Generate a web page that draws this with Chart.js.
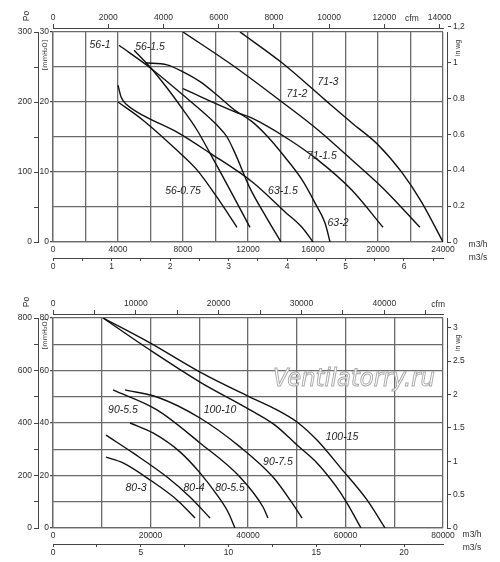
<!DOCTYPE html>
<html>
<head>
<meta charset="utf-8">
<title>Fan curves</title>
<script src="https://cdn.jsdelivr.net/npm/chart.js@4.4.1/dist/chart.umd.min.js"></script>
<style>
  html, body { margin: 0; padding: 0; background: #fff; overflow: hidden; }
  .box { position: relative; width: 500px; height: 281px; }
  canvas { display: block; }
</style>
</head>
<body>
<div class="box"><canvas id="fan-small"></canvas></div>
<div class="box"><canvas id="fan-large"></canvas></div>
<script>
/* =========================================================
   Fan performance curves, two panels.
   Flow in m3/h, static pressure in Pa.
   ========================================================= */

/* ---- upper panel: sizes 56 / 63 / 71 ---- */
const q56_075 = [4000, 5540, 7630, 8860, 10090, 11320];
const p56_075 = [200, 174, 131, 103, 64, 21];
const q56_1   = [4060, 5970, 8000, 10090, 10710, 11200, 12120, 13110, 14030];
const p56_1   = [281, 249, 210, 167, 150, 127, 77, 36, 0];
const q56_15  = [4990, 5970, 7020, 8000, 8860, 9660, 10460, 11320, 12120];
const p56_15  = [274, 250, 220, 189, 160, 127, 93, 56, 21];
const q63_15  = [4000, 4190, 4550, 5540, 7630, 9660, 12250, 14280, 15320, 16000];
const p63_15  = [224, 207, 196, 181, 157, 127, 86, 43, 21, 0];
const q63_2   = [5660, 7020, 8000, 9050, 10090, 11200, 12250, 13230, 14280, 15320, 16120, 16740, 17050];
const p63_2   = [256, 253, 243, 229, 210, 188, 172, 150, 121, 89, 56, 27, 0];
const q71_15  = [8000, 11200, 12250, 14280, 16310, 18400, 20310];
const p71_15  = [219, 186, 177, 150, 117, 74, 21];
const q71_2   = [8000, 11200, 14090, 16310, 18400, 20430, 22580];
const p71_2   = [300, 250, 200, 160, 117, 74, 21];
const q71_3   = [11510, 14090, 16740, 18400, 20000, 21480, 22710, 24000];
const p71_3   = [300, 256, 203, 170, 139, 99, 56, 0];

/* ---- lower panel: sizes 80 / 90 / 100 ---- */
const q80_3   = [10870, 14360, 19900, 25440, 29130];
const p80_3   = [270, 248, 183, 107, 38];
const q80_4   = [10870, 16410, 23390, 28100, 32210];
const p80_4   = [354, 286, 194, 118, 38];
const q80_55  = [15800, 20510, 26050, 30150, 33640, 35900, 37330];
const p80_55  = [400, 362, 290, 210, 126, 61, 0];
const q90_55  = [12310, 21330, 30150, 38360, 43080, 44100];
const p90_55  = [526, 450, 324, 194, 80, 38];
const q90_75  = [14770, 21330, 30150, 38360, 45130, 48620, 51080];
const p90_75  = [526, 499, 419, 309, 194, 107, 38];
const q100_10 = [10260, 19900, 30150, 40410, 45540, 50050, 54150, 57850, 60310, 63180];
const p100_10 = [800, 678, 556, 450, 392, 316, 248, 164, 95, 0];
const q100_15 = [10260, 19900, 30150, 40410, 45950, 50050, 54150, 58870, 64410, 68100];
const p100_15 = [800, 705, 594, 499, 450, 404, 335, 232, 107, 0];

/* curve tags: text, flow, pressure where the tag sits */
const tagsSmall = [
  ["56-1", 2890, 281], ["56-1.5", 5970, 279], ["56-0.75", 8000, 73],
  ["63-1.5", 14150, 73], ["63-2", 17540, 27], ["71-1.5", 16550, 123],
  ["71-2", 15010, 211], ["71-3", 16920, 229]
];
const tagsLarge = [
  ["90-5.5", 14360, 450], ["100-10", 34260, 450], ["100-15", 59280, 347],
  ["90-7.5", 46150, 251], ["80-3", 17030, 152], ["80-4", 28920, 152],
  ["80-5.5", 36310, 152]
];

/* right-hand "in wg" scale labels (as printed) */
const wgTicksSmall = [0, 0.2, 0.4, 0.6, 0.8, 1, 1.2];
const wgTextSmall  = ["0", "0.2", "0.4", "0.6", "0.8", "1", "1,2"];
const wgTicksLarge = [0, 0.5, 1, 1.5, 2, 2.5, 3];
const wgTextLarge  = ["0", "0.5", "1", "1.5", "2", "2.5", "3"];

const M3H_PER_CFM = 1.699;
const INK  = "#111111";
const GRID = "#6a6a6a";
const AXIS = "#444444";
const TXT  = "#2e2e2e";
const FONT = "'Liberation Sans', Arial, sans-serif";

function steps(max, step) {
  const out = [];
  for (let v = 0; v <= max + 1e-9; v += step) out.push({ value: +v.toFixed(6) });
  return out;
}

function every(n) {
  return v => (Math.abs(v / n - Math.round(v / n)) < 1e-6 ? String(+(+v).toFixed(2)) : "");
}

function buildScales(o) {
  const f = { family: FONT, size: 8.5 };
  const tk = { font: f, color: TXT, autoSkip: false, maxRotation: 0 };
  return {
    q: {
      type: "linear", position: "bottom", weight: 0, min: 0, max: o.qMax,
      afterBuildTicks: s => { s.ticks = steps(o.qMax, o.qGrid); },
      ticks: Object.assign({ callback: every(o.qLabel), padding: 3 }, tk),
      grid: { color: GRID, lineWidth: 1.3, drawTicks: false },
      border: { color: GRID, width: 1.3 },
      afterFit: s => { s.height = o.qH; }
    },
    s: {
      type: "linear", position: "bottom", weight: 1, min: 0, max: o.qMax / 3600,
      afterBuildTicks: s => { s.ticks = steps(o.qMax / 3600, o.sStep); },
      ticks: Object.assign({ callback: every(o.sLabel), padding: 1 }, tk),
      grid: { drawOnChartArea: false, color: AXIS, tickLength: 3 },
      border: { color: AXIS },
      afterFit: s => { s.height = o.sH; }
    },
    gapT: {
      type: "linear", position: "top", weight: 0, min: 0, max: 1,
      ticks: { display: false }, grid: { display: false }, border: { display: false },
      afterFit: s => { s.height = 4; }
    },
    cfm: {
      type: "linear", position: "top", weight: 1, min: 0, max: o.qMax / M3H_PER_CFM,
      afterBuildTicks: s => { s.ticks = steps(o.qMax / M3H_PER_CFM, o.cfmStep); },
      ticks: Object.assign({ callback: every(o.cfmLabel), padding: 1 }, tk),
      grid: { drawOnChartArea: false, color: AXIS, tickLength: 4 },
      border: { color: AXIS },
      afterFit: s => { s.height = o.cfmH; }
    },
    mm: {
      type: "linear", position: "left", weight: 0, min: 0, max: o.paMax / 10,
      afterBuildTicks: s => { s.ticks = steps(o.paMax / 10, o.mmStep); },
      ticks: Object.assign({ callback: every(o.mmLabel), padding: 1 }, tk),
      grid: {
        color: GRID, lineWidth: 1.3, tickLength: 3,
        tickColor: c => (c.tick && c.tick.value % o.mmLabel === 0 ? AXIS : "rgba(0,0,0,0)")
      },
      border: { color: GRID, width: 1.3 },
      afterFit: s => { s.width = 15; }
    },
    pa: {
      type: "linear", position: "left", weight: 1, min: 0, max: o.paMax,
      afterBuildTicks: s => { s.ticks = steps(o.paMax, o.paLabel / 2); },
      ticks: Object.assign({ callback: every(o.paLabel), padding: 2 }, tk),
      grid: { drawOnChartArea: false, color: AXIS, tickLength: 4 },
      border: { color: AXIS },
      afterFit: s => { s.width = 38; }
    },
    gapR: {
      type: "linear", position: "right", weight: 0, min: 0, max: 1,
      ticks: { display: false }, grid: { display: false }, border: { display: false },
      afterFit: s => { s.width = 4; }
    },
    wg: {
      type: "linear", position: "right", weight: 1, min: 0, max: o.wgMax,
      afterBuildTicks: s => { s.ticks = o.wgTicks.map(v => ({ value: v })); },
      ticks: Object.assign({ callback: (v, i) => o.wgText[i], padding: 2 }, tk),
      grid: { drawOnChartArea: false, color: AXIS, tickLength: 4 },
      border: { color: AXIS },
      afterFit: s => { s.width = 53; }
    }
  };
}

function rotText(ctx, txt, x, y, font) {
  ctx.save();
  ctx.translate(x, y);
  ctx.rotate(-Math.PI / 2);
  ctx.font = font;
  ctx.textAlign = "center";
  ctx.textBaseline = "middle";
  ctx.fillText(txt, 0, 0);
  ctx.restore();
}

function textPlugin(o) {
  return {
    id: "fanText",
    beforeDatasetsDraw(chart) {
      if (!o.watermark) return;
      const { ctx, chartArea } = chart;
      ctx.save();
      ctx.font = "italic 25px 'DejaVu Sans', sans-serif";
      const w = ctx.measureText(o.watermark).width;
      ctx.translate(354, chartArea.top + 61);
      ctx.scale(162 / w, 1);
      ctx.textAlign = "center";
      ctx.textBaseline = "middle";
      ctx.fillStyle = "#fff";
      ctx.strokeStyle = "#a8a8a8";
      ctx.lineWidth = 1;
      ctx.fillText(o.watermark, 0, 0);
      ctx.strokeText(o.watermark, 0, 0);
      ctx.restore();
    },
    afterDraw(chart) {
      const { ctx, chartArea, scales } = chart;
      ctx.save();
      ctx.fillStyle = "#1e1e1e";
      ctx.font = "italic 10.5px 'Liberation Sans', Arial, sans-serif";
      ctx.textAlign = "center";
      ctx.textBaseline = "middle";
      o.tags.forEach(t => {
        ctx.fillText(t[0], scales.q.getPixelForValue(t[1]), scales.pa.getPixelForValue(t[2]));
      });

      ctx.fillStyle = TXT;
      ctx.font = "8.5px " + FONT;
      ctx.textBaseline = "bottom";
      ctx.fillText("cfm", scales.cfm.getPixelForValue(o.cfmAt), scales.cfm.bottom - 5);
      ctx.textBaseline = "middle";
      ctx.fillText("m3/h", o.unitX, chartArea.bottom + o.unitDy[0]);
      ctx.fillText("m3/s", o.unitX, chartArea.bottom + o.unitDy[1]);

      rotText(ctx, "Po", 27, chartArea.top - 16, "8.5px " + FONT);
      rotText(ctx, "[mmH\u2082O]", 45, chartArea.top + o.mmDy, "6.5px 'DejaVu Sans', sans-serif");
      rotText(ctx, "in wg", 458, chartArea.top + o.wgDy, "7px " + FONT);
      ctx.restore();
    }
  };
}

function fanChart(id, curves, o) {
  return new Chart(document.getElementById(id), {
    type: "scatter",
    data: {
      datasets: curves.map(c => ({
        label: c[0],
        data: c[1].map((q, i) => ({ x: q, y: c[2][i] })),
        showLine: true,
        borderColor: INK,
        borderWidth: 1.4,
        pointRadius: 0,
        cubicInterpolationMode: "monotone",
        xAxisID: "q",
        yAxisID: "pa"
      }))
    },
    options: {
      responsive: true,
      maintainAspectRatio: false,
      animation: false,
      layout: { padding: 0 },
      plugins: { legend: { display: false }, tooltip: { enabled: false } },
      scales: buildScales(o)
    },
    plugins: [textPlugin(o)]
  });
}

fanChart("fan-small", [
  ["56-0.75", q56_075, p56_075], ["56-1", q56_1, p56_1], ["56-1.5", q56_15, p56_15],
  ["63-1.5", q63_15, p63_15], ["63-2", q63_2, p63_2],
  ["71-1.5", q71_15, p71_15], ["71-2", q71_2, p71_2], ["71-3", q71_3, p71_3]
], {
  qMax: 24000, qGrid: 2000, qLabel: 4000, qH: 16,
  sStep: 0.5, sLabel: 1, sH: 23,
  cfmStep: 2000, cfmLabel: 2000, cfmH: 28, cfmAt: 13000,
  paMax: 300, paLabel: 100, mmStep: 5, mmLabel: 10,
  wgMax: 1.169, wgTicks: wgTicksSmall, wgText: wgTextSmall,
  tags: tagsSmall, unitX: 478, unitDy: [3, 16], mmDy: 23, wgDy: 16
});

fanChart("fan-large", [
  ["80-3", q80_3, p80_3], ["80-4", q80_4, p80_4], ["80-5.5", q80_55, p80_55],
  ["90-5.5", q90_55, p90_55], ["90-7.5", q90_75, p90_75],
  ["100-10", q100_10, p100_10], ["100-15", q100_15, p100_15]
], {
  qMax: 80000, qGrid: 10000, qLabel: 20000, qH: 16,
  sStep: 2.5, sLabel: 5, sH: 18,
  cfmStep: 5000, cfmLabel: 10000, cfmH: 33, cfmAt: 46500,
  paMax: 800, paLabel: 200, mmStep: 10, mmLabel: 20,
  wgMax: 3.144, wgTicks: wgTicksLarge, wgText: wgTextLarge,
  tags: tagsLarge, unitX: 472, unitDy: [7, 20], mmDy: 16, wgDy: 25,
  watermark: "Ventilatorry.ru"
});
</script>
</body>
</html>
